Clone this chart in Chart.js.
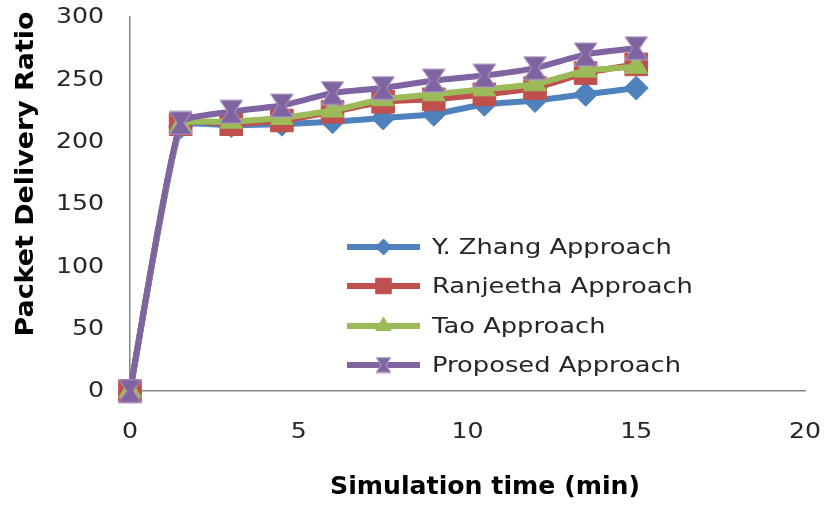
<!DOCTYPE html>
<html>
<head>
<meta charset="utf-8">
<script src="https://cdn.jsdelivr.net/npm/chart.js@4.4.0/dist/chart.umd.min.js"></script>
<style>
  html, body { margin: 0; padding: 0; background: #fff; }
  #wrap { position: relative; width: 827px; height: 506px; }
</style>
</head>
<body>
<div id="wrap"><canvas id="chart" width="827" height="506"></canvas></div>
<script>
// simulation time (min)
const times = [0, 1.5, 3, 4.5, 6, 7.5, 9, 10.5, 12, 13.5, 15];

// packet delivery ratio per approach
const zhang     = [0, 212, 213, 214, 216, 219, 222, 230, 233, 238, 243];
const ranjeetha = [0, 214, 214, 217, 224, 232, 234, 238, 243, 255, 262];
const tao       = [0, 213, 216, 219, 225, 234, 238, 242, 246, 257, 260];
const proposed  = [0, 215, 224, 229, 239, 243, 249, 253, 259, 270, 275];

const seriesNames = ["Y. Zhang Approach", "Ranjeetha Approach", "Tao Approach", "Proposed Approach"];
const seriesColors = ["#4F81BD", "#C0504D", "#9BBB59", "#8064A2"];

const xTicks = [0, 5, 10, 15, 20];
const yTicks = [0, 50, 100, 150, 200, 250, 300];

const FONT = "'DejaVu Sans', sans-serif";
const STRETCH = 1.17; // the original lettering is wide

// hourglass marker for the proposed series (no built-in style for it)
function hourglass(size, color) {
  const c = document.createElement("canvas");
  c.width = size; c.height = size;
  const g = c.getContext("2d");
  g.fillStyle = color;
  g.strokeStyle = "#B3A2C7";
  g.lineWidth = 1;
  g.beginPath();
  g.moveTo(1, 1);
  g.lineTo(size - 1, 1);
  g.lineTo(size * 0.64, size / 2);
  g.lineTo(size - 1, size - 1);
  g.lineTo(1, size - 1);
  g.lineTo(size * 0.36, size / 2);
  g.closePath();
  g.fill();
  g.stroke();
  return c;
}
const hgBig = hourglass(25, seriesColors[3]);
const hgSmall = hourglass(17, seriesColors[3]);

function pts(ys) {
  return times.map((t, i) => ({ x: t, y: ys[i] }));
}

const styles = ["rectRot", "rect", "triangle", hgBig];
const radii = [12, 16, 13, 12];
const legendStyles = ["rectRot", "rect", "triangle", hgSmall];
const legendRadii = [8, 11, 9, 8];

const datasets = [zhang, ranjeetha, tao, proposed].map((ys, i) => ({
  label: seriesNames[i],
  data: pts(ys),
  borderColor: seriesColors[i],
  backgroundColor: seriesColors[i],
  pointBackgroundColor: seriesColors[i],
  pointBorderColor: seriesColors[i],
  pointBorderWidth: 1,
  borderWidth: 6,
  pointStyle: styles[i],
  pointRadius: radii[i],
  pointHoverRadius: radii[i],
  tension: 0.15,
  showLine: true,
  clip: false,
  order: 3 - i
}));

function wideText(ctx, text, x, y, sx) {
  ctx.save();
  ctx.translate(x, y);
  ctx.scale(sx, 1);
  ctx.fillText(text, 0, 0);
  ctx.restore();
}

// tick labels, legend and axis titles
const textLayer = {
  id: "textLayer",
  afterDraw(chart) {
    const ctx = chart.ctx;
    const xs = chart.scales.x, ys = chart.scales.y;
    ctx.save();
    ctx.fillStyle = "#262626";
    ctx.font = "21px " + FONT;
    ctx.textBaseline = "middle";
    ctx.textAlign = "right";
    yTicks.forEach(v => wideText(ctx, String(v), 104, ys.getPixelForValue(v) + 1, 1.2));
    ctx.textAlign = "center";
    xTicks.forEach(v => wideText(ctx, String(v), xs.getPixelForValue(v), 433, 1.2));

    // legend inside the plot
    const x0 = 347, x1 = 420, tx = 432;
    const rows = [247, 286, 326, 365];
    seriesNames.forEach((name, i) => {
      const y = rows[i];
      ctx.strokeStyle = seriesColors[i];
      ctx.lineWidth = 6;
      ctx.beginPath();
      ctx.moveTo(x0, y);
      ctx.lineTo(x1, y);
      ctx.stroke();
      ctx.fillStyle = seriesColors[i];
      ctx.lineWidth = 1;
      Chart.helpers.drawPoint(ctx, { pointStyle: legendStyles[i], radius: legendRadii[i], rotation: 0, borderWidth: 1 }, (x0 + x1) / 2, y);
      ctx.fillStyle = "#262626";
      ctx.font = "22px " + FONT;
      ctx.textAlign = "left";
      wideText(ctx, name, tx, y + 1, STRETCH);
    });

    // axis titles
    ctx.fillStyle = "#000";
    ctx.font = "bold 24px " + FONT;
    ctx.textAlign = "center";
    wideText(ctx, "Simulation time (min)", 485, 488, 1.05);
    ctx.translate(27, 174);
    ctx.rotate(-Math.PI / 2);
    wideText(ctx, "Packet Delivery Ratio", 0, 0, 1.12);
    ctx.restore();
  }
};

new Chart(document.getElementById("chart"), {
  type: "scatter",
  data: { datasets },
  options: {
    responsive: false,
    animation: false,
    devicePixelRatio: 1,
    layout: { padding: { top: 12, right: 22, left: 0, bottom: 0 } },
    plugins: {
      legend: { display: false },
      tooltip: { enabled: false }
    },
    scales: {
      x: {
        type: "linear",
        min: xTicks[0],
        max: xTicks[xTicks.length - 1],
        afterBuildTicks(scale) { scale.ticks = xTicks.map(v => ({ value: v })); },
        afterFit(scale) {
          scale.height = 115;
          scale.paddingLeft = scale.paddingRight = scale.paddingTop = scale.paddingBottom = 0;
        },
        grid: { display: false, drawTicks: false },
        border: { display: true, color: "#868686", width: 1.5 },
        ticks: { display: false }
      },
      y: {
        min: yTicks[0],
        max: yTicks[yTicks.length - 1],
        afterBuildTicks(scale) { scale.ticks = yTicks.map(v => ({ value: v })); },
        afterFit(scale) {
          scale.width = 130;
          scale.paddingLeft = scale.paddingRight = scale.paddingTop = scale.paddingBottom = 0;
        },
        grid: { display: false, drawTicks: false },
        border: { display: true, color: "#868686", width: 1.5 },
        ticks: { display: false }
      }
    }
  },
  plugins: [textLayer]
});
</script>
</body>
</html>
